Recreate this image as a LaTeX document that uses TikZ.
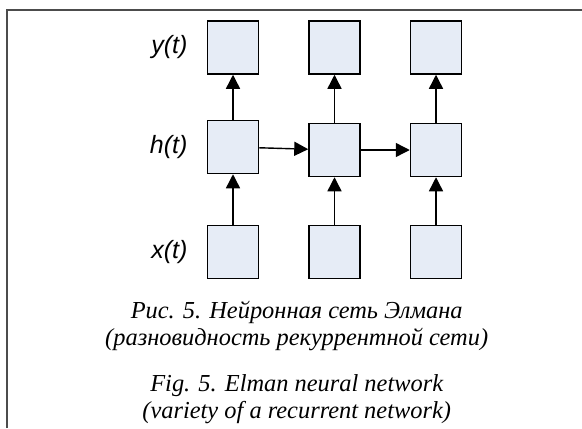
\documentclass[tikz,border=0pt]{standalone}
\usepackage{fontspec}
\setmainfont{Liberation Serif}
\newfontfamily\lblfont{Liberation Sans}
\usetikzlibrary{positioning,arrows.meta}

\definecolor{cellfill}{RGB}{230,236,246}

\tikzset{
  cell/.style={draw,fill=cellfill,line width=.75pt,minimum width=25.5pt,minimum height=26.5pt,inner sep=0pt},
  lbl/.style={inner sep=0pt,font=\lblfont\itshape\fontsize{12.5}{14}\selectfont},
  figcap/.style={inner sep=0pt,anchor=base,font=\itshape\fontsize{12.2}{14}\selectfont},
  link/.style={-{Triangle[length=7pt,width=7pt]},line width=.7pt},
}

\begin{document}
\begin{tikzpicture}[x=.5pt,y=-.5pt]

  \useasboundingbox (0,0) rectangle (582,428);
  \draw[black!70,line width=.6pt] (7,428) -- (7,10) -- (582,10);

  \node[cell] (y1) at (233,47.5) {};
  \node[cell] (y2) [right=24.5pt of y1] {};
  \node[cell] (y3) [right=24.5pt of y2] {};

  \node[cell] (h1) [below=22.5pt of y1] {};
  \node[cell] (h2) [below=24pt of y2] {};
  \node[cell] (h3) [below=24pt of y3] {};

  \node[cell] (x1) [below=25.2pt of h1] {};
  \node[cell] (x2) [right=24.5pt of x1] {};
  \node[cell] (x3) [right=24.5pt of x2] {};

  \node[lbl] (ly) [left=9.5pt of y1] {y(t)};
  \node[lbl] (lh) [left=9.5pt of h1] {h(t)};
  \node[lbl] (lx) [left=9.5pt of x1] {x(t)};

  \draw[link] (x1) -- (h1);
  \draw[link] (x2) -- (h2);
  \draw[link] (x3) -- (h3);
  \draw[link] (h1) -- (y1);
  \draw[link] (h2) -- (y2);
  \draw[link] (h3) -- (y3);
  \draw[link] (h1) -- (h2);
  \draw[link] (h2) -- (h3);

  \node[figcap] (capru1) at (296.7,318) {Рис. 5. Нейронная сеть Элмана};
  \node[figcap] (capru2) at (296.7,345) {(разновидность рекуррентной сети)};
  \node[figcap] (capen1) at (296.7,391) {Fig. 5. Elman neural network};
  \node[figcap] (capen2) at (296.7,418) {(variety of a recurrent network)};

\end{tikzpicture}
\end{document}
